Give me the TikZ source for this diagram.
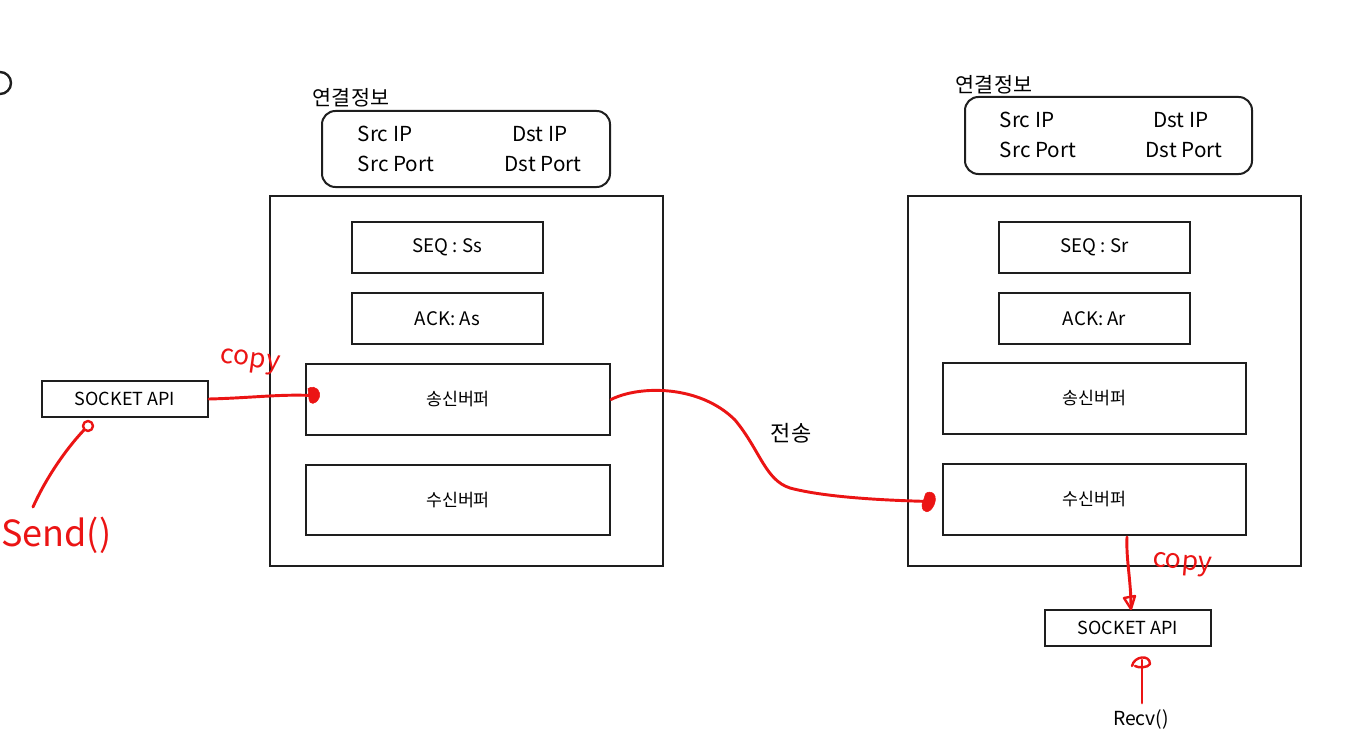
\documentclass[tikz,border=0pt]{standalone}
\usepackage{fontspec}
\setmainfont{Noto Sans CJK KR}
\usetikzlibrary{calc}
\definecolor{pen}{RGB}{235,20,20}
\definecolor{ink}{RGB}{30,30,30}
\tikzset{
  box/.style={draw=ink, line width=1.5pt, inner sep=0pt},
  rbox/.style={draw=ink, line width=1.5pt, rounded corners=10pt, inner sep=0pt},
  lbl/.style={font=\fontsize{15.5}{17}\selectfont, inner sep=0pt},
  title/.style={font=\fontsize{15.5}{17}\selectfont, inner sep=0pt},
  small/.style={font=\fontsize{14}{16}\selectfont, inner sep=0pt},
  tiny/.style={font=\fontsize{13}{15}\selectfont, inner sep=0pt},
  sock/.style={font=\fontsize{13.5}{15}\selectfont, inner sep=0pt},
  red/.style={draw=pen, line width=2.2pt, line cap=round, line join=round},
  hand/.style={text=pen, font=\fontsize{20}{22}\selectfont\itshape, inner sep=0pt},
  blob/.style={fill=pen, draw=pen},
}
\begin{document}
\begin{tikzpicture}[x=0.75pt,y=-0.75pt]
\useasboundingbox (0,0) rectangle (1347,742);
% stray arc top-left
\draw[ink, line width=1.8pt] (0,94) arc (90:-90:11);

% ===== left host =====
\node[title, anchor=center] (infoL) at (351,98) {연결정보};
\draw[rbox] (322,111) rectangle (610,187);
\node[lbl] (sipL) at (385,134) {Src IP};
\node[lbl] (dipL) at (540,134) {Dst IP};
\node[lbl] (sptL) at (396,164) {Src Port};
\node[lbl] (dptL) at (543,164) {Dst Port};
\draw[box] (270,196) rectangle (663,566);
\node[box, minimum width=143.25pt, minimum height=38.25pt, small] (seqL) at (447.5,247.5) {SEQ : Ss};
\node[box, minimum width=143.25pt, minimum height=38.25pt, small] (ackL) at (447.5,318.5) {ACK: As};
\node[box, minimum width=228pt, minimum height=53.25pt, tiny] (sbufL) at (458,399.5) {송신버퍼};
\node[box, minimum width=228pt, minimum height=52.5pt, tiny] (rbufL) at (458,500) {수신버퍼};
\node[box, minimum width=124.5pt, minimum height=27pt, sock] (sockL) at (125,399) {SOCKET API};

% ===== right host =====
\node[title, anchor=center] (infoR) at (994,85) {연결정보};
\draw[rbox] (965,97) rectangle (1252,174);
\node[lbl] (sipR) at (1027,120) {Src IP};
\node[lbl] (dipR) at (1181,120) {Dst IP};
\node[lbl] (sptR) at (1038,150) {Src Port};
\node[lbl] (dptR) at (1184,150) {Dst Port};
\draw[box] (908,196) rectangle (1301,566);
\node[box, minimum width=143.25pt, minimum height=38.25pt, small] (seqR) at (1094.5,247) {SEQ : Sr};
\node[box, minimum width=143.25pt, minimum height=38.25pt, small] (ackR) at (1094.5,318.5) {ACK: Ar};
\node[box, minimum width=227.25pt, minimum height=53.25pt, tiny] (sbufR) at (1094.5,398.5) {송신버퍼};
\node[box, minimum width=227.25pt, minimum height=53.25pt, tiny] (rbufR) at (1094.5,499.5) {수신버퍼};
\node[box, minimum width=124.5pt, minimum height=27pt, sock] (sockR) at (1128,628) {SOCKET API};

\node[font=\fontsize{16.5}{18}\selectfont, inner sep=0pt] (xfer) at (791,433) {전송};
\node[font=\fontsize{14.5}{16}\selectfont, inner sep=0pt] (recv) at (1141,719) {Recv()};

% ===== red pen strokes =====
% copy: left socket -> send buffer
\draw[red] (sockL.east) .. controls (250,398) and (280,394) .. ($(sbufL.west)+(6,-4)$);
\fill[blob] ($(sbufL.west)+(3,-11)$) .. controls (316,384) and (322,392) .. (319,398) .. controls (316,405) and (309,405) .. (309,399) -- cycle;
\node[hand, rotate=-8] (copyL) at (250,362) {copy};

% Send()
\draw[red] (33,507) .. controls (45,480) and (65,450) .. (84,430);
\draw[red, line width=1.8pt] (88,426) circle (5);
\node[hand, font=\fontsize{27}{30}\selectfont\itshape, anchor=west] (send) at (1,535) {Send()};

% transmission curve
\draw[red] (sbufL.east) .. controls (640,385) and (700,385) .. (735,420)
  .. controls (760,450) and (765,480) .. (790,488)
  .. controls (820,496) and (870,500) .. ($(rbufR.west)+(-12,2)$);
\fill[blob] ($(rbufR.west)+(-17,-4)$) .. controls (925,490) and (940,490) .. (934,505)
  .. controls (930,514) and (922,514) .. (922,505) -- cycle;

% copy: receive buffer -> right socket
\coordinate (cpyS) at (1127,537);
\draw[red] (cpyS) .. controls (1126,560) and (1131,580) .. ($(sockR.north)+(3,-2)$);
\draw[red, line width=1.8pt] (1124,598) -- (1131,609) -- (1135,596) -- cycle;
\node[hand, rotate=-5] (copyR) at (1182,565) {copy};

% Recv() -> right socket
\draw[red] ($(recv.north)+(1,-6)$) -- (1142,660);
\draw[red, line width=1.8pt] (1132,666) .. controls (1134,656) and (1150,654) .. (1150,664) .. controls (1148,668) and (1138,668) .. (1135,666);
\end{tikzpicture}
\end{document}
